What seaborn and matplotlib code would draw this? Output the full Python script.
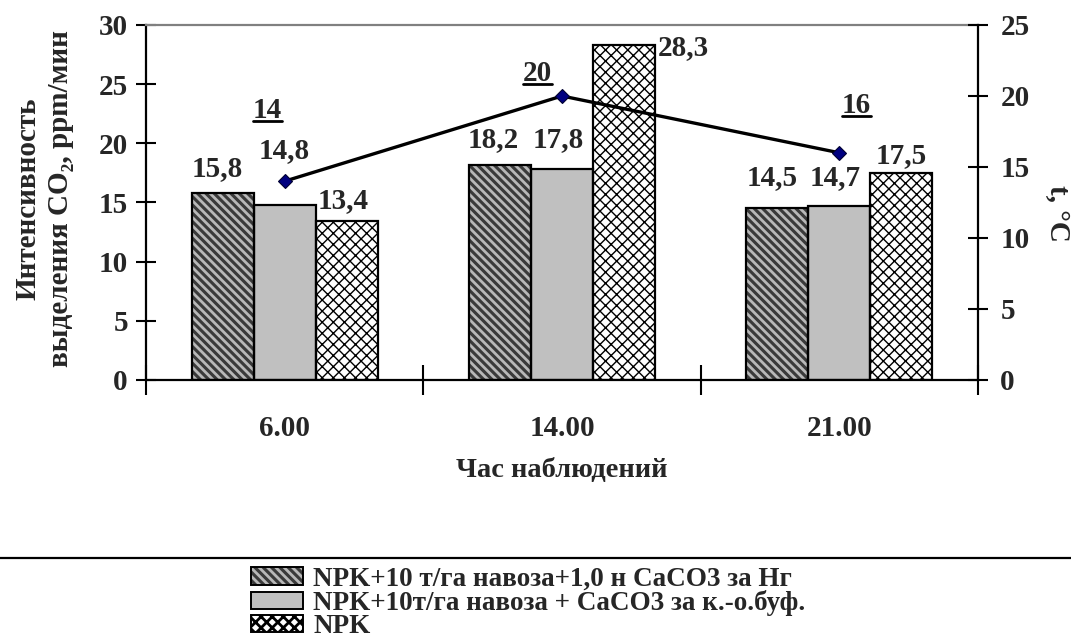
import numpy as np
import pandas as pd
import seaborn as sns
import matplotlib
matplotlib.use("Agg")
import matplotlib.pyplot as plt
from matplotlib.patches import Rectangle, Patch
from matplotlib.lines import Line2D
from matplotlib.transforms import IdentityTransform

# ---- data -------------------------------------------------------------
hours = ["6.00", "14.00", "21.00"]
variants = [
    "NPK+10 т/га навоза+1,0 н CaCO3 за Нг",
    "NPK+10т/га навоза + CaCO3 за к.-о.буф.",
    "NPK",
]
co2_manure_lime_hg = [15.8, 18.2, 14.5]
co2_manure_lime_buf = [14.8, 17.8, 14.7]
co2_npk = [13.4, 28.3, 17.5]
air_temp = [14, 20, 16]
co2_ticks = [0, 5, 10, 15, 20, 25, 30]
temp_ticks = [0, 5, 10, 15, 20, 25]

# label nudges (x in category units, y in value units)
co2_label_shift = [
    [(-0.02, 2.1), (-0.023, 2.1), (-0.018, 2.6)],
    [(0.0, 4.6), (-0.013, 2.5), (-0.014, 2.4)],
    [(-0.013, 1.8), (0.215, -0.2), (0.0, 1.5)],
]
temp_label_shift = [(-0.063, 5.0), (-0.089, 1.6), (0.061, 3.3)]

# ---- style ------------------------------------------------------------
sns.set_style("white")
serif = ["Liberation Serif", "DejaVu Serif"]
plt.rcParams["font.family"] = serif
plt.rcParams["font.weight"] = "bold"
plt.rcParams["hatch.linewidth"] = 2.0

FS = 21
fig = plt.figure(figsize=(10.71, 6.41), dpi=100)
ax = fig.add_axes([0.1363, 0.4072, 0.7769, 0.5538])

series = [co2_manure_lime_hg, co2_manure_lime_buf, co2_npk]
df = pd.DataFrame({
    "hour": np.tile(hours, len(variants)),
    "variant": np.repeat(variants, len(hours)),
    "co2": np.concatenate(series),
})

faces = ["#3a3a3a", "#c0c0c0", "#ffffff"]
hatches = ["\\\\\\\\", "", "xxx"]
hatch_colors = ["#b8b8b8", "#000000", "#000000"]
hatch_lw = [2.0, 1.0, 1.0]

sns.barplot(data=df, x="hour", y="co2", hue="variant", order=hours,
            hue_order=variants, palette=faces, saturation=1, width=0.67,
            errorbar=None, legend=False, ax=ax, zorder=2)

for k, cont in enumerate(ax.containers):
    for p in cont.patches:
        p.set_facecolor(faces[k])
        p.set_hatch(hatches[k])
        p.set_edgecolor(hatch_colors[k])
        p.set_linewidth(0)
        if hasattr(p, "set_hatch_linewidth"):
            p.set_hatch_linewidth(hatch_lw[k])
        ax.add_patch(Rectangle(p.get_xy(), p.get_width(), p.get_height(),
                               fill=False, edgecolor="black", linewidth=1.6,
                               zorder=3))

# value labels above bars
for k, cont in enumerate(ax.containers):
    for i, p in enumerate(cont.patches):
        val = series[k][i]
        dx, dy = co2_label_shift[k][i]
        ax.text(p.get_x() + p.get_width() / 2 + dx, val + dy,
                f"{val:.1f}".replace(".", ","), ha="center", va="center",
                fontsize=FS, fontweight="bold", zorder=5)

ax.set_xlim(-0.5, len(hours) - 0.5)
ax.set_ylim(0, 30)
ax.set_yticks(co2_ticks)
ax.set_xticks(range(len(hours)))
ax.set_xticklabels(hours)
ax.set_xticks(np.arange(len(hours) + 1) - 0.5, minor=True)
ax.tick_params(axis="x", which="major", length=0, pad=25, labelsize=FS)
ax.tick_params(axis="x", which="minor", direction="inout", length=22,
               width=1.5, color="black", bottom=True)
ax.tick_params(axis="y", direction="inout", length=14, width=1.5,
               color="black", left=True, pad=6, labelsize=FS)
for lab in ax.get_xticklabels() + ax.get_yticklabels():
    lab.set_fontweight("bold")

ax.set_xlabel("Час наблюдений", fontsize=20.5, fontweight="bold")
ax.xaxis.label.set_va("center")
ax.xaxis.set_label_coords(0.5, -0.255)
ax.set_ylabel("Интенсивность\nвыделения CO₂, ppm/мин", fontsize=FS,
              fontweight="bold", linespacing=1.25, family=serif)
ax.yaxis.label.set_va("center")
ax.yaxis.set_label_coords(-0.122, 0.51)

for side in ["left", "bottom"]:
    ax.spines[side].set_color("black")
    ax.spines[side].set_linewidth(1.6)
ax.spines["right"].set_visible(False)
ax.spines["top"].set_color("#808080")
ax.spines["top"].set_linewidth(1.6)

# temperature on the secondary axis
ax2 = ax.twinx()
sns.lineplot(x=np.arange(len(hours)), y=air_temp, ax=ax2, color="black",
             linewidth=2.4, marker="D", markersize=7,
             markerfacecolor="#000080", markeredgecolor="#000030",
             markeredgewidth=0.8, zorder=4)
ax2.set_ylim(0, 25)
ax2.set_yticks(temp_ticks)
ax2.tick_params(axis="y", direction="inout", length=14, width=1.5,
                color="black", right=True, pad=9, labelsize=FS)
for lab in ax2.get_yticklabels():
    lab.set_fontweight("bold")
for side in ["left", "bottom", "top"]:
    ax2.spines[side].set_visible(False)
ax2.spines["right"].set_color("black")
ax2.spines["right"].set_linewidth(1.6)
ax2.set_ylabel("t, °C", rotation=270, fontsize=FS, fontweight="bold")
ax2.yaxis.label.set_va("center")
ax2.yaxis.set_label_coords(1.095, 0.47)

temp_texts = []
for i, t in enumerate(air_temp):
    dx, dy = temp_label_shift[i]
    temp_texts.append(ax2.text(i + dx, t + dy, f"{t}", ha="center",
                               va="center", fontsize=FS, fontweight="bold"))

# separator line above the legend
fig.add_artist(Line2D([0, 1], [0.1295, 0.1295], transform=fig.transFigure,
                      color="black", linewidth=1.6))

handles = []
for k in range(len(variants)):
    fill = Patch(facecolor=faces[k], hatch=hatches[k],
                 edgecolor=hatch_colors[k], linewidth=0)
    outline = Patch(facecolor="none", edgecolor="black", linewidth=1.4)
    handles.append((fill, outline))
fig.legend(handles, variants, loc="upper left",
           bbox_to_anchor=(0.2345, 0.116), frameon=False,
           prop={"family": serif, "weight": "bold", "size": 19.5},
           handlelength=1.9, handleheight=0.6, handletextpad=0.4,
           labelspacing=-0.06, borderpad=0, borderaxespad=0)

# underline the temperature labels
fig.canvas.draw()
renderer = fig.canvas.get_renderer()
for t in temp_texts:
    bb = t.get_window_extent(renderer)
    y = bb.y0 + 3
    fig.add_artist(Line2D([bb.x0, bb.x1], [y, y], transform=IdentityTransform(),
                          color="black", linewidth=2))

fig.savefig("out.png", dpi=100)
